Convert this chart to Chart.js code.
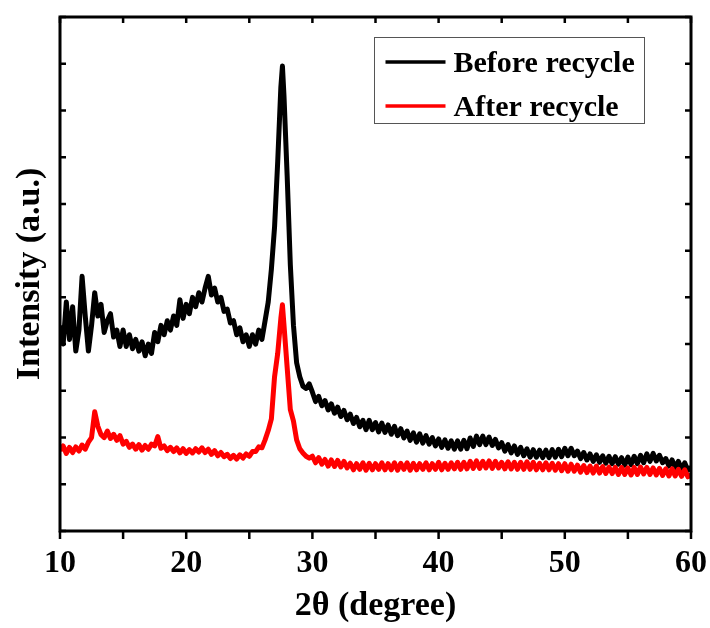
<!DOCTYPE html>
<html><head><meta charset="utf-8">
<script src="https://cdn.jsdelivr.net/npm/chart.js@4.4.1/dist/chart.umd.min.js"></script>
<style>html,body{margin:0;padding:0;background:#fff}</style>
</head><body>
<canvas id="c" width="710" height="628" style="display:block;width:710px;height:628px"></canvas>
<script>
// 2θ sampling positions (degree)
const twoTheta = [
 10,10.25,10.5,10.75,11,11.25,11.5,11.75,12,12.25,12.5,12.75,
 13,13.25,13.5,13.75,14,14.25,14.5,14.75,15,15.25,15.5,15.75,
 16,16.25,16.5,16.75,17,17.25,17.5,17.75,18,18.25,18.5,18.75,
 19,19.25,19.5,19.75,20,20.25,20.5,20.75,21,21.25,21.5,21.75,
 22,22.25,22.5,22.75,23,23.25,23.5,23.75,24,24.25,24.5,24.75,
 25,25.25,25.5,25.75,26,26.25,26.5,26.75,27,27.25,27.5,
 27.625,
 27.75,28,28.25,28.5,28.75,29,29.25,29.5,29.75,
 30,30.25,30.5,30.75,31,31.25,31.5,31.75,32,32.25,32.5,32.75,
 33,33.25,33.5,33.75,34,34.25,34.5,34.75,35,35.25,35.5,35.75,
 36,36.25,36.5,36.75,37,37.25,37.5,37.75,38,38.25,38.5,38.75,
 39,39.25,39.5,39.75,40,40.25,40.5,40.75,41,41.25,41.5,41.75,
 42,42.25,42.5,42.75,43,43.25,43.5,43.75,44,44.25,44.5,44.75,
 45,45.25,45.5,45.75,46,46.25,46.5,46.75,47,47.25,47.5,47.75,
 48,48.25,48.5,48.75,49,49.25,49.5,49.75,50,50.25,50.5,50.75,
 51,51.25,51.5,51.75,52,52.25,52.5,52.75,53,53.25,53.5,53.75,
 54,54.25,54.5,54.75,55,55.25,55.5,55.75,56,56.25,56.5,56.75,
 57,57.25,57.5,57.75,58,58.25,58.5,58.75,59,59.25,59.5,59.75,
 60
];
// Intensity (a.u.)
const beforeRecycle = [
 4.4,4.0,4.9,4.1,4.8,3.85,4.3,5.45,4.6,3.85,4.4,5.1,
 4.6,4.85,4.25,4.5,4.65,4.15,4.3,3.95,4.3,3.95,4.2,3.9,
 4.1,3.85,4.05,3.75,4.0,3.8,4.25,4.05,4.4,4.2,4.5,4.3,
 4.6,4.4,4.95,4.55,4.85,4.65,5.0,4.8,5.1,4.9,5.2,5.45,
 5.05,5.2,4.9,5.0,4.7,4.75,4.45,4.5,4.2,4.35,4.05,4.2,
 3.95,4.2,4.0,4.3,4.1,4.5,4.9,5.6,6.5,7.9,9.5,
 9.95,
 9.3,7.6,5.7,4.4,3.6,3.3,3.1,3.05,3.15,
 2.97,2.77,2.88,2.68,2.79,2.59,2.72,2.52,2.65,2.45,2.58,2.38,
 2.5,2.3,2.43,2.23,2.37,2.17,2.37,2.17,2.32,2.12,2.31,2.11,
 2.27,2.07,2.24,2.04,2.19,1.99,2.14,1.94,2.1,1.9,2.08,1.88,
 2.04,1.86,2.0,1.82,1.97,1.79,1.95,1.77,1.93,1.75,1.93,1.75,
 1.94,1.76,1.99,1.81,2.03,1.85,2.03,1.85,2.01,1.83,1.96,1.78,
 1.89,1.71,1.85,1.67,1.82,1.64,1.79,1.61,1.76,1.58,1.74,1.58,
 1.73,1.57,1.73,1.57,1.74,1.58,1.75,1.59,1.77,1.61,1.77,1.61,
 1.71,1.55,1.68,1.52,1.65,1.49,1.63,1.47,1.61,1.45,1.6,1.44,
 1.59,1.43,1.57,1.41,1.58,1.42,1.6,1.44,1.62,1.46,1.65,1.49,
 1.66,1.5,1.62,1.46,1.55,1.39,1.52,1.36,1.49,1.33,1.46,1.3,
 1.37
];
const afterRecycle = [
 1.72,1.82,1.66,1.79,1.68,1.8,1.71,1.84,1.75,1.9,2.0,2.55,
 2.24,2.06,2.0,2.14,1.98,2.07,1.94,2.04,1.86,1.92,1.79,1.86,
 1.75,1.85,1.73,1.83,1.75,1.86,1.82,2.02,1.77,1.82,1.72,1.79,
 1.7,1.78,1.67,1.76,1.66,1.74,1.67,1.76,1.69,1.78,1.68,1.75,
 1.64,1.72,1.61,1.68,1.59,1.64,1.55,1.62,1.54,1.63,1.56,1.65,
 1.6,1.7,1.7,1.8,1.78,1.95,2.15,2.4,3.3,3.8,4.55,
 4.84,
 4.4,3.5,2.6,2.35,1.95,1.76,1.67,1.6,1.56,
 1.6,1.46,1.57,1.43,1.53,1.39,1.52,1.38,1.51,1.37,1.49,1.35,
 1.45,1.31,1.44,1.32,1.46,1.3,1.45,1.31,1.44,1.32,1.46,1.31,
 1.44,1.31,1.46,1.3,1.45,1.32,1.46,1.3,1.45,1.31,1.44,1.32,
 1.46,1.31,1.44,1.32,1.47,1.31,1.45,1.32,1.46,1.33,1.47,1.32,
 1.47,1.33,1.49,1.34,1.5,1.34,1.49,1.35,1.5,1.34,1.49,1.35,
 1.47,1.33,1.48,1.33,1.47,1.32,1.47,1.32,1.48,1.32,1.47,1.31,
 1.45,1.31,1.46,1.31,1.45,1.3,1.44,1.29,1.44,1.28,1.43,1.28,
 1.41,1.26,1.4,1.25,1.39,1.24,1.39,1.24,1.38,1.23,1.37,1.23,
 1.36,1.21,1.36,1.21,1.35,1.2,1.36,1.21,1.37,1.22,1.36,1.21,
 1.35,1.2,1.34,1.19,1.33,1.18,1.33,1.18,1.32,1.17,1.31,1.16,
 1.2
];
const seriesLabels = ['Before recycle', 'After recycle'];
const seriesColors = ['#000000', '#ff0000'];
const xAxisTitle = '2θ (degree)';
const yAxisTitle = 'Intensity (a.u.)';
const xRange = [10, 60];
const yRange = [0, 11];

const FONT = "'Liberation Serif', 'Times New Roman', serif";

function pts(ys) { return twoTheta.map((x, i) => ({x: x, y: ys[i]})); }

const framePlugin = {
  id: 'frame',
  afterDatasetsDraw(chart) {
    const {ctx, chartArea, scales} = chart;
    const {left, right, top, bottom} = chartArea;
    const x = scales.x, y = scales.y;
    ctx.save();
    ctx.strokeStyle = '#000';
    ctx.lineWidth = 2.5;
    ctx.lineCap = 'butt';
    ctx.beginPath();
    y.ticks.forEach(t => {
      const py = y.getPixelForValue(t.value);
      ctx.moveTo(left, py); ctx.lineTo(left + 6, py);
      ctx.moveTo(right, py); ctx.lineTo(right - 6, py);
    });
    x.ticks.forEach(t => {
      const px = x.getPixelForValue(t.value);
      ctx.moveTo(px, bottom); ctx.lineTo(px, bottom + 8);
      ctx.moveTo(px, top); ctx.lineTo(px, top + 6);
    });
    ctx.stroke();
    ctx.lineWidth = 3;
    ctx.strokeRect(left, top, right - left, bottom - top);

    // legend box
    const bx = right - 316.5, by = top + 20.5, bw = 270, bh = 86;
    ctx.lineWidth = 1;
    ctx.strokeStyle = '#555';
    ctx.strokeRect(bx, by, bw, bh);
    ctx.font = 'bold 30px ' + FONT;
    ctx.textBaseline = 'alphabetic';
    ctx.textAlign = 'left';
    chart.data.datasets.forEach((ds, i) => {
      const ly = by + 24.5 + i * 44;
      ctx.strokeStyle = ds.borderColor;
      ctx.lineWidth = 3.5;
      ctx.beginPath();
      ctx.moveTo(bx + 11, ly); ctx.lineTo(bx + 71, ly);
      ctx.stroke();
      ctx.fillStyle = '#000';
      ctx.fillText(ds.label, bx + 79, ly + 10);
    });
    ctx.restore();
  }
};

new Chart(document.getElementById('c'), {
  type: 'line',
  data: {
    datasets: [
      {label: seriesLabels[0], data: pts(beforeRecycle), borderColor: seriesColors[0], borderWidth: 5, borderJoinStyle: 'round', pointRadius: 0, tension: 0, order: 1},
      {label: seriesLabels[1], data: pts(afterRecycle), borderColor: seriesColors[1], borderWidth: 5, borderJoinStyle: 'round', pointRadius: 0, tension: 0, order: 0}
    ]
  },
  options: {
    responsive: false,
    animation: false,
    devicePixelRatio: 1,
    layout: {padding: {left: 0, right: 19, top: 17, bottom: 0}},
    plugins: {legend: {display: false}, tooltip: {enabled: false}},
    scales: {
      x: {
        type: 'linear', min: xRange[0], max: xRange[1],
        grid: {display: false, drawTicks: false},
        border: {display: false},
        ticks: {stepSize: 5, autoSkip: false, maxRotation: 0, padding: 14, color: '#000',
          font: {family: FONT, size: 32, weight: 'bold'},
          callback: v => (v % 10 === 0 ? String(v) : '')},
        title: {display: true, text: xAxisTitle, color: '#000', font: {family: FONT, size: 34, weight: 'bold'}, padding: {top: 0, bottom: 1}},
        afterFit: s => { s.height = 97; s.paddingLeft = 0; s.paddingRight = 0; }
      },
      y: {
        min: yRange[0], max: yRange[1],
        grid: {display: false, drawTicks: false},
        border: {display: false},
        ticks: {stepSize: 1, display: false},
        title: {display: true, text: yAxisTitle, color: '#000', font: {family: FONT, size: 34, weight: 'bold'}, padding: {top: 10, bottom: 0}},
        afterFit: s => { s.width = 60; s.paddingTop = 0; s.paddingBottom = 0; }
      }
    }
  },
  plugins: [framePlugin]
});
</script>
</body></html>
